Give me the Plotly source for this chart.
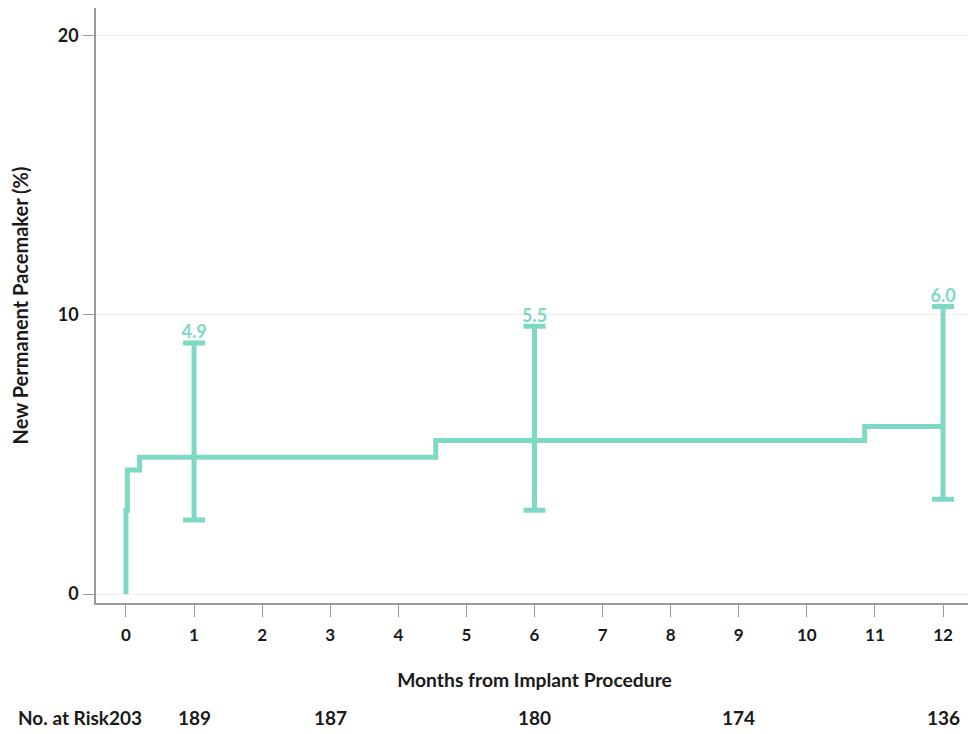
import plotly.graph_objects as go

# Kaplan-Meier style step curve
km_months = [0, 0, 0.02, 0.2, 4.55, 10.85, 12]
km_rate = [0, 3.0, 4.45, 4.9, 5.5, 6.0, 6.0]

# Estimates with confidence intervals
est_months = [1, 6, 12]
est_rate = [4.9, 5.5, 6.0]
ci_upper = [9.0, 9.6, 10.3]
ci_lower = [2.65, 3.0, 3.4]
est_labels = ["4.9", "5.5", "6.0"]

# At-risk table
risk_months = [0, 1, 3, 6, 9, 12]
risk_counts = [203, 189, 187, 180, 174, 136]

x_ticks = list(range(0, 13))
y_ticks = [0, 10, 20]

COLOR = "rgb(125,216,196)"
FONT = "Lato"
TXT = "#1a1a1a"

fig = go.Figure()

fig.add_trace(go.Scatter(
    x=km_months, y=km_rate, mode="lines",
    line=dict(color=COLOR, width=5, shape="hv"),
    hoverinfo="skip", showlegend=False,
))

fig.add_trace(go.Scatter(
    x=est_months, y=est_rate, mode="markers",
    marker=dict(size=1, color="rgba(0,0,0,0)"),
    error_y=dict(
        type="data", symmetric=False,
        array=[u - e for u, e in zip(ci_upper, est_rate)],
        arrayminus=[e - l for e, l in zip(est_rate, ci_lower)],
        color=COLOR, thickness=5, width=11,
    ),
    showlegend=False, hoverinfo="skip",
))

fig.add_trace(go.Scatter(
    x=est_months, y=ci_upper, mode="text",
    text=est_labels, textposition="top center",
    textfont=dict(family=FONT, size=18, color=COLOR, weight="bold"),
    showlegend=False, hoverinfo="skip",
))

RISK_Y = -0.193
RISK_SIZE = 19
annotations = []
for m, c in zip(risk_months, risk_counts):
    annotations.append(dict(
        x=m, y=RISK_Y, xref="x", yref="paper", text=str(c),
        showarrow=False, xanchor="center", yanchor="middle",
        font=dict(family=FONT, size=RISK_SIZE, color=TXT, weight="bold"),
    ))
annotations.append(dict(
    x=-0.2, y=RISK_Y, xref="x", yref="paper", text="No. at Risk",
    showarrow=False, xanchor="right", yanchor="middle",
    font=dict(family=FONT, size=RISK_SIZE, color=TXT, weight="bold"),
))

# page body has an 8px margin, so the figure is sized to the remaining area
fig.update_layout(
    width=968, height=726,
    margin=dict(l=88, r=3, t=0, b=131),
    paper_bgcolor="white", plot_bgcolor="white",
    font=dict(family=FONT, color=TXT),
    annotations=annotations,
    xaxis=dict(
        range=[-0.44, 12.44], tickvals=x_ticks, automargin=False,
        showline=True, linecolor="#9a9a9a", linewidth=1.5,
        ticks="outside", ticklen=12, tickcolor="#9a9a9a",
        showgrid=False, zeroline=False, ticklabelstandoff=4,
        tickfont=dict(family=FONT, size=17, color=TXT, weight="bold"),
        title=dict(text="Months from Implant Procedure", standoff=29,
                   font=dict(family=FONT, size=19.3, color=TXT, weight="bold")),
    ),
    yaxis=dict(
        range=[-0.32, 21.0], tickvals=y_ticks, automargin=False,
        showline=True, linecolor="#9a9a9a", linewidth=1.5,
        ticks="outside", ticklen=11, tickcolor="#9a9a9a",
        showgrid=True, gridcolor="#f1f1f1", gridwidth=1, zeroline=False,
        ticklabelstandoff=1,
        tickfont=dict(family=FONT, size=18, color=TXT, weight="bold"),
        title=dict(text="New Permanent Pacemaker (%)", standoff=30,
                   font=dict(family=FONT, size=20, color=TXT, weight="bold")),
    ),
)

fig.write_html("out.html")
